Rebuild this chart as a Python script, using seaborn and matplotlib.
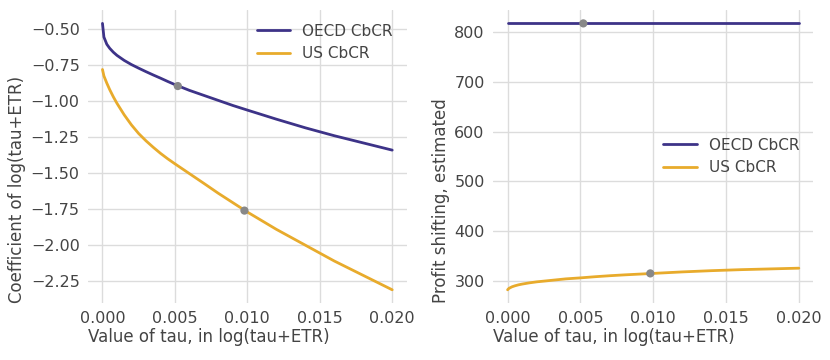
import numpy as np
import pandas as pd
import matplotlib
matplotlib.use("Agg")
import matplotlib.pyplot as plt
import seaborn as sns

tau = [0, 0.0001, 0.0003, 0.0005, 0.00075, 0.001, 0.0015, 0.002, 0.0025, 0.003, 0.0035, 0.004,
       0.0045, 0.005, 0.006, 0.007, 0.008, 0.009, 0.010, 0.012, 0.014, 0.016, 0.018, 0.020]
coef_oecd = [-0.46, -0.555, -0.605, -0.633, -0.66, -0.682, -0.717, -0.746, -0.771, -0.795, -0.818, -0.84,
             -0.863, -0.885, -0.925, -0.96, -0.995, -1.03, -1.062, -1.125, -1.185, -1.24, -1.29, -1.34]
coef_us = [-0.78, -0.825, -0.875, -0.92, -0.97, -1.015, -1.095, -1.165, -1.225, -1.275, -1.32, -1.362,
           -1.40, -1.435, -1.503, -1.571, -1.64, -1.705, -1.77, -1.89, -2.00, -2.11, -2.21, -2.31]
ps_oecd = [818] * len(tau)
ps_us = [282, 285, 288, 290, 292, 293.5, 296, 298, 299.5, 301, 302.5, 304,
         305, 306, 308.3, 310.3, 312, 313.5, 315, 318, 320.5, 322.5, 324, 325.5]

series_names = ["OECD CbCR", "US CbCR"]
point_tau = [0.0052, 0.0098]
point_coef = [-0.895, -1.76]
point_ps = [818, 315]

colors = {"OECD CbCR": "#3d3388", "US CbCR": "#e8ab2c"}

df = pd.DataFrame({
    "tau": tau * 2,
    "coef": coef_oecd + coef_us,
    "ps": ps_oecd + ps_us,
    "series": [series_names[0]] * len(tau) + [series_names[1]] * len(tau),
})
pts = pd.DataFrame({"tau": point_tau, "coef": point_coef, "ps": point_ps})

sns.set_theme(style="whitegrid")
plt.rcParams["font.family"] = ["DejaVu Sans"]
plt.rcParams["grid.color"] = "#dcdcdc"
plt.rcParams["grid.linewidth"] = 1.0

fig = plt.figure(figsize=(8.3, 3.6), dpi=100)
ax1 = fig.add_axes([0.106, 0.158, 0.384, 0.814])
ax2 = fig.add_axes([0.594, 0.158, 0.386, 0.814])

tc = "#444444"
for ax, ycol, ylabel, loc in [(ax1, "coef", "Coefficient of log(tau+ETR)", "upper right"),
                              (ax2, "ps", "Profit shifting, estimated", "center right")]:
    sns.lineplot(data=df, x="tau", y=ycol, hue="series", palette=colors, linewidth=2.0, ax=ax)
    sns.scatterplot(data=pts, x="tau", y=ycol, color="#888888", s=35, edgecolor="none", ax=ax, zorder=5)
    for s in ax.spines.values():
        s.set_visible(False)
    ax.set_xlabel("Value of tau, in log(tau+ETR)", fontsize=12, color=tc, labelpad=1, loc="left")
    ax.set_ylabel(ylabel, fontsize=12, color=tc, labelpad=3, loc="bottom")
    ax.set_xticks([0, 0.005, 0.01, 0.015, 0.02])
    ax.set_xticklabels(["0.000", "0.005", "0.010", "0.015", "0.020"])
    ax.tick_params(axis="both", labelsize=11.5, colors=tc, length=0, pad=6)
    leg = ax.legend(loc=loc, frameon=False, fontsize=11, handlelength=2.2)
    for t in leg.get_texts():
        t.set_color(tc)

ax1.set_yticks([-0.5, -0.75, -1.0, -1.25, -1.5, -1.75, -2.0, -2.25])
ax1.set_yticklabels(["\u22120.50", "\u22120.75", "\u22121.00", "\u22121.25", "\u22121.50", "\u22121.75", "\u22122.00", "\u22122.25"])
ax2.set_yticks([300, 400, 500, 600, 700, 800])

fig.savefig("out.png", dpi=100)
